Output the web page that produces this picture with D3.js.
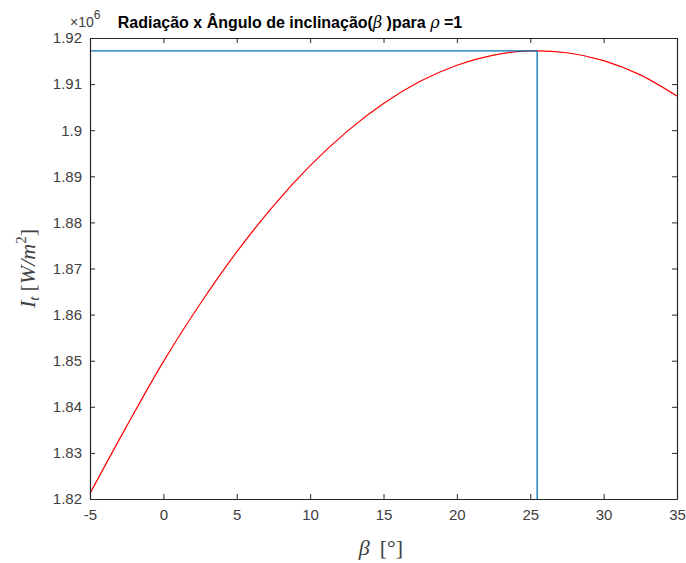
<!DOCTYPE html>
<html>
<head>
<meta charset="utf-8">
<script src="https://cdn.jsdelivr.net/npm/d3@7"></script>
<style>
  body { margin: 0; background: #fff; }
  svg { display: block; font-family: Arial, "Liberation Sans", sans-serif; }
  .tick text { fill: #404040; font-size: 15px; }
  .tick line, .domain { stroke: #262626; }
</style>
</head>
<body>
<div id="chart"></div>
<script>
// tilt angle beta (degrees) and total radiation (x 10^6 W/m^2)
const betaValues = [-5, -2.5, 0, 2.5, 5, 7.5, 10, 12.5, 15, 17.5, 20, 22.5, 25, 25.47, 27.5, 30, 32.5, 35];
const radiation = [1.8212, 1.8358, 1.8498, 1.8623, 1.8736, 1.8836, 1.8923, 1.8997, 1.9058, 1.9106, 1.9141, 1.9163, 1.9172, 1.9172, 1.9168, 1.9151, 1.9120, 1.9074];
const optimumBeta = 25.47;
const optimumValue = 1.9172;
const xTicks = [-5, 0, 5, 10, 15, 20, 25, 30, 35];
const yTicks = [1.82, 1.83, 1.84, 1.85, 1.86, 1.87, 1.88, 1.89, 1.9, 1.91, 1.92];

const width = 686, height = 563;
const margin = { top: 38, right: 9, bottom: 64, left: 90 };

const svg = d3.select('#chart').append('svg')
    .attr('width', width)
    .attr('height', height);

const x = d3.scaleLinear().domain([-5, 35]).range([margin.left, width - margin.right]);
const y = d3.scaleLinear().domain([1.82, 1.92]).range([height - margin.bottom, margin.top]);

const tickLen = 5;
const fmtY = d => d3.format('.2f')(d).replace(/0$/, '');

// curve
const points = betaValues.map((b, i) => [b, radiation[i]]);
svg.append('path')
    .datum(points)
    .attr('fill', 'none')
    .attr('stroke', '#ff0000')
    .attr('stroke-width', 1.2)
    .attr('d', d3.line().x(d => x(d[0])).y(d => y(d[1])).curve(d3.curveMonotoneX));

// optimum markers
svg.append('line')
    .attr('x1', x(-5)).attr('x2', x(optimumBeta))
    .attr('y1', y(optimumValue)).attr('y2', y(optimumValue))
    .attr('stroke', '#0072bd').attr('stroke-width', 1.3);
svg.append('line')
    .attr('x1', x(optimumBeta)).attr('x2', x(optimumBeta))
    .attr('y1', y(optimumValue)).attr('y2', y(1.82))
    .attr('stroke', '#0072bd').attr('stroke-width', 1.3);

// axes
svg.append('g')
    .attr('transform', `translate(0,${y(1.82)})`)
    .call(d3.axisBottom(x).tickValues(xTicks).tickSizeInner(-tickLen).tickSizeOuter(0).tickPadding(10).tickFormat(d => String(d)))
    .call(g => g.selectAll('.tick text').attr('dy', '0.71em'));
svg.append('g')
    .attr('transform', `translate(0,${y(1.92)})`)
    .call(d3.axisTop(x).tickValues(xTicks).tickSizeInner(-tickLen).tickSizeOuter(0).tickFormat(''));
svg.append('g')
    .attr('transform', `translate(${x(-5)},0)`)
    .call(d3.axisLeft(y).tickValues(yTicks).tickSizeInner(-tickLen).tickSizeOuter(0).tickPadding(8).tickFormat(fmtY));
svg.append('g')
    .attr('transform', `translate(${x(35)},0)`)
    .call(d3.axisRight(y).tickValues(yTicks).tickSizeInner(-tickLen).tickSizeOuter(0).tickFormat(''));
svg.selectAll('.domain').attr('stroke-width', 1.2);

// exponent note
const expo = svg.append('text')
    .attr('x', 70).attr('y', 27)
    .attr('fill', '#404040')
    .style('font-size', '14px');
expo.append('tspan').text('×10');
expo.append('tspan').attr('dy', -8).style('font-size', '12px').text('6');

// title
const title = svg.append('text')
    .attr('x', 290).attr('y', 28)
    .attr('text-anchor', 'middle')
    .attr('fill', '#000')
    .style('font-weight', 'bold')
    .style('font-size', '16px');
title.append('tspan').text('Radiação x Ângulo de inclinação(');
title.append('tspan').style('font-family', '"DejaVu Serif", serif').style('font-style', 'italic').style('font-weight', 'normal').text('β');
title.append('tspan').text(' )para ');
title.append('tspan').style('font-family', '"DejaVu Serif", serif').style('font-style', 'italic').style('font-weight', 'normal').text('ρ');
title.append('tspan').text(' =1');

// x label
const xl = svg.append('text')
    .attr('x', 381).attr('y', 555)
    .attr('text-anchor', 'middle')
    .attr('fill', '#404040')
    .style('font-family', '"Liberation Serif", "DejaVu Serif", serif')
    .style('font-size', '22px');
xl.append('tspan').style('font-style', 'italic').text('β');
xl.append('tspan').attr('dx', 10).text('[°]');

// y label
const yl = svg.append('text')
    .attr('transform', `translate(35,${(y(1.82) + y(1.92)) / 2}) rotate(-90)`)
    .attr('text-anchor', 'middle')
    .attr('fill', '#404040')
    .style('font-family', '"Liberation Serif", "DejaVu Serif", serif')
    .style('font-size', '22px');
yl.append('tspan').style('font-style', 'italic').text('I');
yl.append('tspan').style('font-style', 'italic').style('font-size', '15px').attr('dy', 4).text('t');
yl.append('tspan').attr('dy', -4).attr('dx', 5).text('[');
yl.append('tspan').style('font-style', 'italic').text('W/m');
yl.append('tspan').style('font-size', '15px').attr('dy', -9).text('2');
yl.append('tspan').attr('dy', 9).text(']');
</script>
</body>
</html>
